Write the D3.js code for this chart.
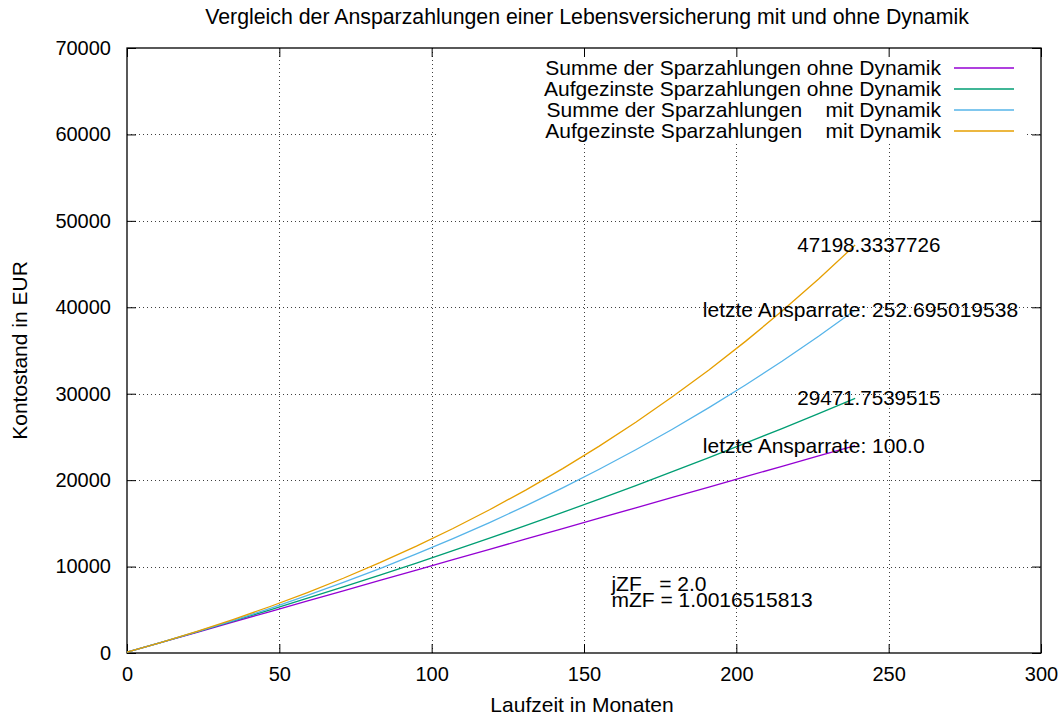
<!DOCTYPE html>
<html>
<head>
<meta charset="utf-8">
<script src="https://cdn.jsdelivr.net/npm/d3@7"></script>
<style>
  html, body { margin: 0; padding: 0; background: #fff; }
  svg text { font-family: "Liberation Sans", Arial, Helvetica, sans-serif; white-space: pre; fill: #000; }
</style>
</head>
<body>
<svg id="chart" width="1063" height="721"></svg>
<script>
// ---- data ----
const months = [0, 11, 23, 35, 47, 59, 71, 83, 95, 107, 119, 131, 143, 155, 167, 179, 191, 203, 215, 227, 239];
const sumOhne = [100, 1200, 2400, 3600, 4800, 6000, 7200, 8400, 9600, 10800, 12000, 13200, 14400, 15600, 16800, 18000, 19200, 20400, 21600, 22800, 24000];
const aufOhne = [100.17, 1212.96, 2450.18, 3712.14, 4999.34, 6312.28, 7651.49, 9017.47, 10410.78, 11831.96, 13281.55, 14760.14, 16268.31, 17806.63, 19375.72, 20976.19, 22608.67, 24273.80, 25972.23, 27704.64, 29471.75];
const sumMit = [100, 1200, 2460, 3783, 5172.15, 6630.76, 8162.29, 9770.41, 11458.93, 13231.88, 15093.47, 17048.15, 19100.55, 21255.58, 23518.36, 25894.28, 28388.99, 31008.44, 33758.86, 36646.80, 39679.14];
const aufMit = [100.17, 1212.96, 2510.82, 3898.32, 5380.44, 6962.41, 8649.73, 10448.21, 12363.89, 14403.29, 16573.05, 18880.29, 21332.47, 23937.45, 26703.41, 29639.04, 32753.46, 36056.25, 39557.51, 43267.79, 47198.33];

const seriesNames = [
  "Summe der Sparzahlungen ohne Dynamik",
  "Aufgezinste Sparzahlungen ohne Dynamik",
  "Summe der Sparzahlungen    mit Dynamik",
  "Aufgezinste Sparzahlungen    mit Dynamik"
];
const seriesValues = [sumOhne, aufOhne, sumMit, aufMit];
const seriesColors = ["#9400d3", "#009e73", "#56b4e9", "#e69f00"];

const xTicks = [0, 50, 100, 150, 200, 250, 300];
const yTicks = [0, 10000, 20000, 30000, 40000, 50000, 60000, 70000];

const labelTexts = ["47198.3337726", "letzte Ansparrate: 252.695019538", "29471.7539515", "letzte Ansparrate: 100.0", "jZF   = 2.0", "mZF = 1.0016515813"];
const labelX = [220, 189, 220, 189, 159, 159];
const labelY = [47198.33, 39679.14, 29471.75, 24000, 8050, 6150];

const titleText = "Vergleich der Ansparzahlungen einer Lebensversicherung mit und ohne Dynamik";
const xLabel = "Laufzeit in Monaten";
const yLabel = "Kontostand in EUR";

// ---- layout ----
const FS = 20, FS_TXT = 21, FS_NUM = 20.6;
const L = 127, R = 1041, T = 48, B = 653;
const svg = d3.select("#chart");
const x = d3.scaleLinear().domain([0, 300]).range([L, R]);
const y = d3.scaleLinear().domain([0, 70000]).range([B, T]);

// grid
const grid = svg.append("g").attr("stroke", "#000").attr("stroke-width", 1).attr("stroke-dasharray", "1,3").attr("opacity", 0.75);
grid.selectAll("line.gx").data(xTicks.slice(1, -1)).join("line")
  .attr("x1", d => Math.round(x(d)) + 0.5).attr("x2", d => Math.round(x(d)) + 0.5)
  .attr("y1", T).attr("y2", B);
grid.selectAll("line.gy").data(yTicks.slice(1, -1)).join("line")
  .attr("y1", d => Math.round(y(d)) + 0.5).attr("y2", d => Math.round(y(d)) + 0.5)
  .attr("x1", L).attr("x2", R);

// opaque key box (hides grid behind the legend)
svg.append("rect").attr("x", 437).attr("y", T + 1).attr("width", 588).attr("height", 93).attr("fill", "#fff");

// axes with inside ticks
const fmt = d3.format("d");
const axB = svg.append("g").attr("transform", `translate(0,${B})`)
  .call(d3.axisBottom(x).tickValues(xTicks).tickFormat(fmt).tickSizeInner(-9).tickSizeOuter(0).tickPadding(14));
const axL = svg.append("g").attr("transform", `translate(${L},0)`)
  .call(d3.axisLeft(y).tickValues(yTicks).tickFormat(fmt).tickSizeInner(-9).tickSizeOuter(0).tickPadding(16));
const axT = svg.append("g").attr("transform", `translate(0,${T})`)
  .call(d3.axisTop(x).tickValues(xTicks).tickFormat("").tickSizeInner(-9).tickSizeOuter(0));
const axR = svg.append("g").attr("transform", `translate(${R},0)`)
  .call(d3.axisRight(y).tickValues(yTicks).tickFormat("").tickSizeInner(-9).tickSizeOuter(0));
[axB, axL, axT, axR].forEach(a => {
  a.select(".domain").remove();
  a.selectAll("text").attr("font-size", FS).attr("font-family", null).attr("fill", "#000");
  a.selectAll("line").attr("stroke", "#000");
});

// border
svg.append("rect").attr("x", L).attr("y", T).attr("width", R - L).attr("height", B - T)
  .attr("fill", "none").attr("stroke", "#000").attr("stroke-width", 1.3);

// curves
const line = d3.line().x(d => x(d[0])).y(d => y(d[1]));
seriesValues.forEach((vals, i) => {
  svg.append("path").datum(months.map((m, j) => [m, vals[j]]))
    .attr("d", line).attr("fill", "none").attr("stroke", seriesColors[i]).attr("stroke-width", 1.3);
});

// legend
const legX = 941, legY0 = 68, legDy = 21;
seriesNames.forEach((n, i) => {
  svg.append("text").attr("x", legX).attr("y", legY0 + i * legDy).attr("dy", "0.35em")
    .attr("text-anchor", "end").attr("font-size", FS_TXT).text(n);
  svg.append("line").attr("x1", 954).attr("x2", 1014)
    .attr("y1", legY0 + i * legDy).attr("y2", legY0 + i * legDy)
    .attr("stroke", seriesColors[i]).attr("stroke-width", 1.3);
});

// annotations
labelTexts.forEach((t, i) => {
  const numeric = /^[0-9.]+$/.test(t);
  svg.append("text").attr("x", x(labelX[i])).attr("y", y(labelY[i])).attr("dy", "0.35em")
    .attr("font-size", numeric ? FS_NUM : FS_TXT).text(t);
});

// titles
svg.append("text").attr("x", (L + R) / 2 + 3).attr("y", 17).attr("dy", "0.35em")
  .attr("text-anchor", "middle").attr("font-size", 21.3).text(titleText);
svg.append("text").attr("x", 582).attr("y", 705).attr("dy", "0.35em")
  .attr("text-anchor", "middle").attr("font-size", FS_TXT).text(xLabel);
svg.append("text").attr("transform", `translate(20,${(T + B) / 2}) rotate(-90)`).attr("dy", "0.35em")
  .attr("text-anchor", "middle").attr("font-size", FS_TXT).text(yLabel);
</script>
</body>
</html>
